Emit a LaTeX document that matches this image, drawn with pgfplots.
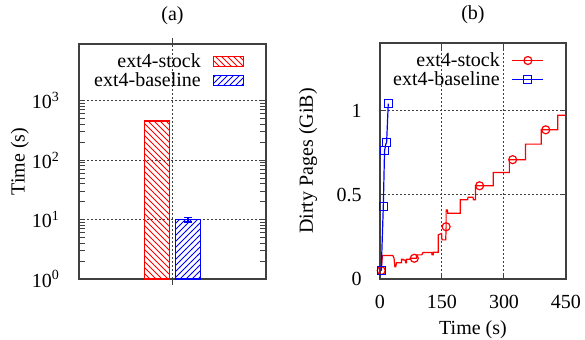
\documentclass[border=0pt]{standalone}
\usepackage{fontspec}
\setmainfont{Liberation Serif}
\usepackage{pgfplots}
\pgfplotsset{compat=1.18}
\usetikzlibrary{patterns}
\pgfplotsset{
  myaxis/.style={
    scale only axis,
    anchor=south west,
    axis line style={black!75, line width=0.8pt},
    tick align=inside,
    major tick length=3pt,
    tick style={black!75, line width=0.5pt},
    grid=major,
    major grid style={black!75, line width=0.5pt, dash pattern=on 1pt off 1pt},
    /pgf/number format/assume math mode=true,
    font=\fontsize{10}{12}\selectfont,
    title style={at={(0.5,1)}, anchor=center, yshift=8pt},
    legend cell align=right,
    legend plot pos=right,
    legend style={draw=none, fill=none, at={(1,1)}, anchor=north east,
      xshift=-11pt, yshift=-4pt, inner sep=0pt, outer sep=0pt, row sep=0pt,
      nodes={inner sep=1pt, text height=6.5pt, text depth=1pt},
      /tikz/every odd column/.append style={column sep=5pt}},
  }
}
\begin{document}
\begin{tikzpicture}
\path[use as bounding box] (0,0) rectangle (292.5pt,169.5pt);
% (a)
\begin{axis}[myaxis,
  at={(39.5pt,30pt)}, width=93.5pt, height=117.5pt,
  title={(a)},
  ymode=log, ymin=1, ymax=9000, log origin=infty,
  xmin=-1, xmax=1, xtick={0}, xticklabels={},
  ytick={1,10,100,1000},
  yticklabels={10\textsuperscript{0},10\textsuperscript{1},10\textsuperscript{2},10\textsuperscript{3}},
  minor ytick={},
  yticklabel style={xshift=-6pt},
  ylabel={Time (s)},
  ylabel style={at={(axis description cs:-0.316,0.5)}, anchor=center},
  ybar=3pt, bar width=12.5pt,
]
\addplot[draw=red, line width=0.7pt, pattern=north west lines, pattern color=red,
  error bars/.cd, y dir=both, y explicit,
  error bar style={red, line width=0.6pt},
  error mark options={rotate=90, mark size=2pt, red, line width=0.6pt}]
  coordinates {(0,455) +- (0,8)};
\addplot[draw=blue, line width=0.7pt, pattern=north east lines, pattern color=blue,
  error bars/.cd, y dir=both, y explicit,
  error bar style={blue, line width=0.6pt},
  error mark options={rotate=90, mark size=2pt, blue, line width=0.6pt}]
  coordinates {(0,10) +- (0,0.9)};
\end{axis}
% custom legend for (a)
\begin{axis}[myaxis,
  at={(39.5pt,30pt)}, width=93.5pt, height=117.5pt,
  hide axis, xmin=0, xmax=1, ymin=0, ymax=1,
]
\addlegendimage{legend image code/.code={\draw[draw=red, line width=0.6pt, pattern=north west lines, pattern color=red] (0pt,-2.5pt) rectangle (15pt,2.5pt);}}
\addlegendentry{ext4-stock}
\addlegendimage{legend image code/.code={\draw[draw=blue, line width=0.6pt, pattern=north east lines, pattern color=blue] (0pt,-2.5pt) rectangle (15pt,2.5pt);}}
\addlegendentry{ext4-baseline}
\end{axis}
% (b)
\begin{axis}[myaxis,
  at={(190pt,30pt)}, width=93pt, height=118pt,
  title={(b)},
  xmin=0, xmax=450, ymin=0, ymax=1.4,
  xtick={0,150,300,450}, ytick={0,0.5,1},
  yticklabel style={xshift=-5.7pt},
  xticklabel style={yshift=-4.5pt},
  xlabel={Time (s)},
  xlabel style={at={(axis description cs:0.5,0)}, anchor=center, yshift=-25.5pt},
  ylabel={Dirty Pages (GiB)},
  ylabel style={at={(axis description cs:-0.387,0.5)}, anchor=center},
]
\addplot[red, line width=0.6pt, no marks]
  coordinates {
(3,0.05) (6,0.14) (31,0.14) (34,0.123) (36,0.073) (38,0.073) (40,0.097) (52,0.097)
(52,0.117) (56,0.117) (56,0.113) (61,0.113) (62,0.097) (64,0.097) (64.5,0.117) (73,0.117)
(73,0.123) (83,0.123) (88,0.123) (88,0.143) (101,0.143) (104,0.157) (125,0.157) (126,0.143)
(129,0.143) (129,0.159) (141,0.159) (141,0.262) (149,0.27) (150,0.232) (159,0.232) (160,0.31)
(160,0.41) (163,0.41) (164,0.39) (194,0.39) (194,0.47) (212,0.47) (213,0.485) (225,0.485)
(226,0.47) (231,0.47) (231,0.553) (241,0.553) (274,0.553) (274,0.632) (313,0.632) (313,0.708)
(321,0.708) (352,0.708) (352,0.80) (390,0.80) (390,0.885) (401,0.885) (430,0.885) (430,0.972)
(450,0.972)
  };
\addplot[red, line width=0.6pt, only marks, mark=o, mark size=2pt]
  coordinates {(3,0.05) (83,0.123) (160,0.31) (241,0.553) (321,0.708) (401,0.885)};
\addplot[blue, line width=0.6pt, no marks]
  coordinates {(3,0.05) (8,0.43) (11,0.76) (14,0.80) (16,0.81) (20,1.04)};
\addplot[blue, line width=0.6pt, only marks, mark=square, mark size=2pt]
  coordinates {(3,0.05) (8,0.43) (11,0.76) (16,0.81) (20,1.04)};
\end{axis}
% custom legend for (b)
\begin{axis}[myaxis,
  at={(190pt,30pt)}, width=93pt, height=118pt,
  hide axis, xmin=0, xmax=1, ymin=0, ymax=1,
  legend image code/.code={\draw[mark repeat=2, mark phase=2, #1] plot coordinates {(0pt,0pt) (7.75pt,0pt) (15.5pt,0pt)};},
]
\addlegendimage{red, line width=0.6pt, mark=o, mark size=2pt, mark options={solid, draw=red}}
\addlegendentry{ext4-stock}
\addlegendimage{blue, line width=0.6pt, mark=square, mark size=2pt, mark options={solid, draw=blue}}
\addlegendentry{ext4-baseline}
\end{axis}
\end{tikzpicture}
\end{document}
